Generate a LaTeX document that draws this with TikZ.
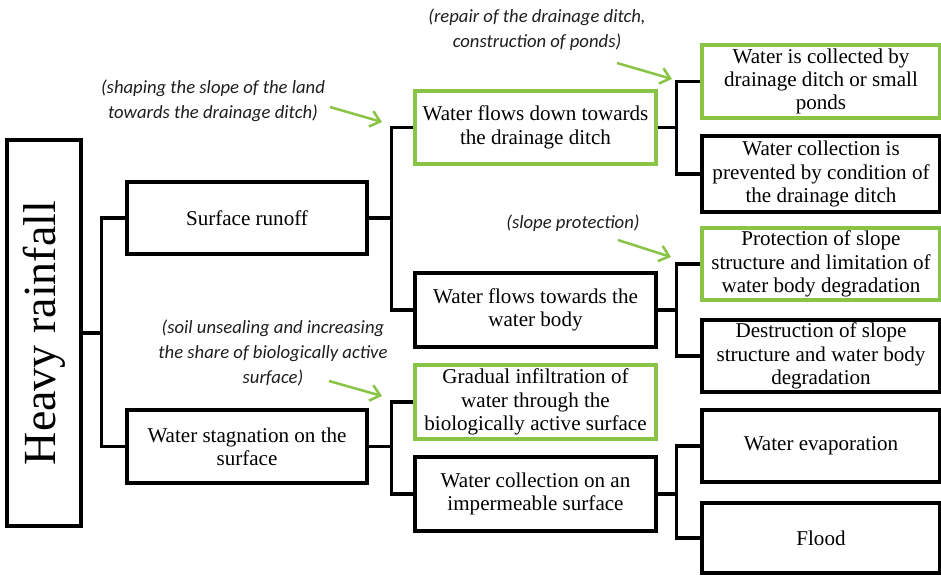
\documentclass[tikz,border=0pt]{standalone}
\usepackage{fontspec}
\setmainfont{Liberation Serif}
\newfontfamily\notefont{Carlito}
\usepackage{graphicx}
\usepackage{xcolor}
\usetikzlibrary{positioning, arrows.meta}

\definecolor{leafgreen}{RGB}{138,196,70}
\definecolor{notegray}{RGB}{30,30,30}

\begin{document}
\begin{tikzpicture}[x=0.75pt, y=-0.75pt,
    box/.style={draw=black, line width=2.3pt, align=center, inner sep=2pt,
                font=\fontsize{15.8}{17.5}\selectfont},
    goodbox/.style={box, draw=leafgreen},
    note/.style={align=center, text=notegray,
                 font=\notefont\itshape\fontsize{14}{18.75}\selectfont},
    link/.style={line width=2.3pt},
    hint/.style={draw=leafgreen, line width=1.9pt,
                 -{Straight Barb[length=7pt, width=12pt]}}]
  \useasboundingbox (0,0) rectangle (941,576);

  % Root
  \node[box, minimum width=55.5pt, minimum height=289.5pt] (rain) at (44,333)
    {\rotatebox{90}{\fontsize{34.5}{40}\selectfont Heavy rainfall}};

  % First level
  \node[box, minimum width=180pt, minimum height=54pt] (runoff) at (247,218) {Surface runoff};
  \node[box, minimum width=180pt, minimum height=54.75pt] (stag) at (247,446.5)
    {Water stagnation on the\\surface};

  % Second level
  \node[goodbox, minimum width=180.75pt, minimum height=54.75pt] (down) at (535.5,127.5)
    {Water flows down towards\\the drainage ditch};
  \node[box, minimum width=180.75pt, minimum height=55.5pt] (body) at (535.5,310)
    {Water flows towards the\\water body};
  \node[goodbox, minimum width=180.75pt, minimum height=55.5pt] (infil) at (535.5,402)
    {Gradual infiltration of\\water through the\\biologically active surface};
  \node[box, minimum width=180.75pt, minimum height=55.5pt] (imperm) at (535.5,494)
    {Water collection on an\\impermeable surface};

  % Third level
  \node[goodbox, minimum width=178.5pt, minimum height=54.75pt] (collect) at (821,81.5)
    {Water is collected by\\drainage ditch or small\\ponds};
  \node[box, minimum width=178.5pt, minimum height=57pt] (prevent) at (821,174)
    {Water collection is\\prevented by condition of\\the drainage ditch};
  \node[goodbox, minimum width=178.5pt, minimum height=54pt] (protect) at (821,264)
    {Protection of slope\\structure and limitation of\\water body degradation};
  \node[box, minimum width=178.5pt, minimum height=54pt] (destroy) at (821,356)
    {Destruction of slope\\structure and water body\\degradation};
  \node[box, minimum width=178.5pt, minimum height=54pt] (evap) at (821,446)
    {Water evaporation};
  \node[box, minimum width=178.5pt, minimum height=52.5pt] (flood) at (821,538)
    {Flood};

  % Connectors
  \draw[link] (runoff.west) -- ++(-24,0) coordinate (fork1) |- (stag.west);
  \draw[link] (rain.east) -- (rain.east -| fork1);
  \draw[link] (down.west) -- ++(-22,0) coordinate (fork2) |- (body.west);
  \draw[link] (runoff.east) -- (runoff.east -| fork2);
  \draw[link] (infil.west) -- ++(-22,0) coordinate (fork3) |- (imperm.west);
  \draw[link] (stag.east) -- (stag.east -| fork3);
  \draw[link] (collect.west) -- ++(-24,0) coordinate (fork4) |- (prevent.west);
  \draw[link] (down.east) -- (down.east -| fork4);
  \draw[link] (protect.west) -- ++(-24,0) coordinate (fork5) |- (destroy.west);
  \draw[link] (body.east) -- (body.east -| fork5);
  \draw[link] (evap.west) -- ++(-24,0) coordinate (fork6) |- (flood.west);
  \draw[link] (imperm.east) -- (imperm.east -| fork6);

  % Measures
  \node[note] (repairnote) at (537,30) {(repair of the drainage ditch,\\construction of ponds)};
  \node[note] (shapenote) at (213,101) {(shaping the slope of the land\\towards the drainage ditch)};
  \node[note] (slopenote) at (573,223) {(slope protection)};
  \node[note] (soilnote) at (273,353)
    {(soil unsealing and increasing\\the share of biologically active\\surface)};

  \coordinate (repairtail) at (617,63);
  \coordinate (repairtip) at (672,79);
  \coordinate (shapetail) at (330,107);
  \coordinate (shapetip) at (382,122);
  \coordinate (slopetail) at (618,240);
  \coordinate (slopetip) at (671,257);
  \coordinate (soiltail) at (329,381);
  \coordinate (soiltip) at (382,396);
  \draw[hint] (repairtail) -- (repairtip);
  \draw[hint] (shapetail) -- (shapetip);
  \draw[hint] (slopetail) -- (slopetip);
  \draw[hint] (soiltail) -- (soiltip);
\end{tikzpicture}
\end{document}
